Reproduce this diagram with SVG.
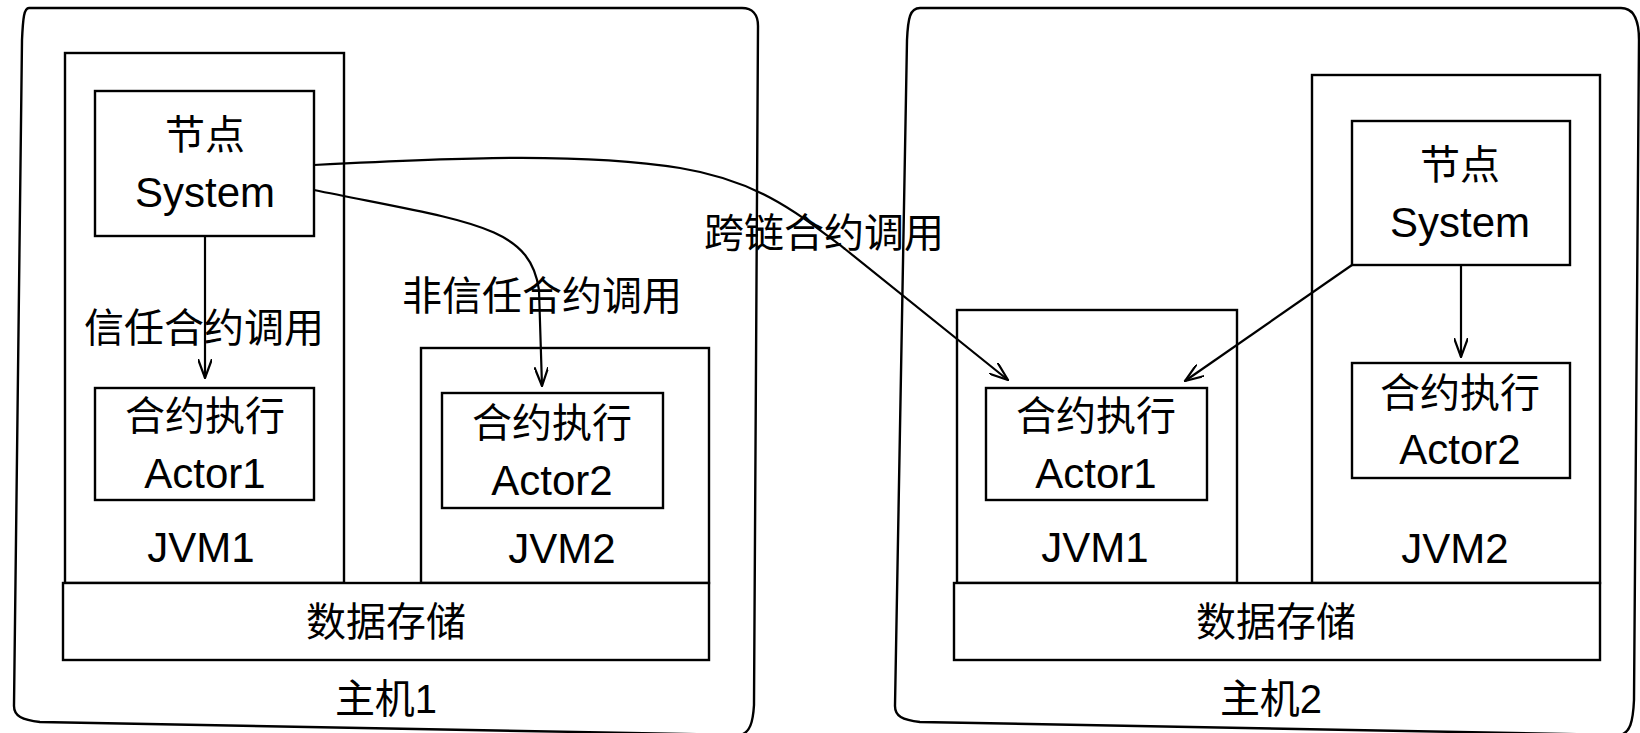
<svg xmlns="http://www.w3.org/2000/svg" width="1640" height="733" viewBox="0 0 1640 733">
<style>
.box{fill:#fff;stroke:#000;stroke-width:2.4}
.host{fill:#fff;stroke:#000;stroke-width:2.4}
.t{font-family:"Liberation Sans","Noto Sans CJK SC",sans-serif;font-size:40px;fill:#000;text-anchor:middle}
.l{font-size:42px}
.edge{fill:none;stroke:#000;stroke-width:2.2}
</style>
<defs>
<marker id="arr" viewBox="0 0 20 14" refX="19" refY="7" markerWidth="20" markerHeight="14" markerUnits="userSpaceOnUse" orient="auto">
<path d="M0,0 L19,7 L0,14" fill="none" stroke="#000" stroke-width="2.2"/>
</marker>
</defs>
<rect width="1640" height="733" fill="#fff"/>

<g id="host1">
<path class="host" d="M29,8 L742,8 C752,8 758,14 758,26 L754,705 C753,722 750,733 740,735 L40,722 C22,720 14,716 14,706 L22,40 C23,18 24,8 29,8 Z"/>
<text class="t" x="386" y="713">主机1</text>
</g>
<g id="host1-jvm1">
<rect class="box" x="65" y="53" width="279" height="530"/>
<text class="t l" x="201" y="562">JVM1</text>
</g>
<g id="host1-jvm2">
<rect class="box" x="421" y="348" width="288" height="235"/>
<text class="t l" x="562" y="563">JVM2</text>
</g>
<g id="host1-storage">
<rect class="box" x="63" y="583" width="646" height="77"/>
<text class="t" x="386" y="636">数据存储</text>
</g>
<g id="host1-node">
<rect class="box" x="95" y="91" width="219" height="145"/>
<text class="t" x="205" y="149">节点</text>
<text class="t l" x="205" y="207">System</text>
</g>
<g id="host1-actor1">
<rect class="box" x="95" y="388" width="219" height="112"/>
<text class="t" x="205" y="430">合约执行</text>
<text class="t l" x="205" y="488">Actor1</text>
</g>
<g id="host1-actor2">
<rect class="box" x="442" y="393" width="221" height="115"/>
<text class="t" x="552" y="437">合约执行</text>
<text class="t l" x="552" y="495">Actor2</text>
</g>

<g id="host2">
<path class="host" d="M920,8 L1621,8 C1632,8 1639,18 1639,40 L1634,700 C1633,722 1630,733 1620,735 L920,722 C902,720 895,716 895,706 L907,40 C908,18 910,8 920,8 Z"/>
<text class="t" x="1271" y="713">主机2</text>
</g>
<g id="host2-jvm1">
<rect class="box" x="957" y="310" width="280" height="273"/>
<text class="t l" x="1095" y="562">JVM1</text>
</g>
<g id="host2-jvm2">
<rect class="box" x="1312" y="75" width="288" height="508"/>
<text class="t l" x="1455" y="563">JVM2</text>
</g>
<g id="host2-storage">
<rect class="box" x="954" y="583" width="646" height="77"/>
<text class="t" x="1276" y="636">数据存储</text>
</g>
<g id="host2-node">
<rect class="box" x="1352" y="121" width="218" height="144"/>
<text class="t" x="1460" y="179">节点</text>
<text class="t l" x="1460" y="237">System</text>
</g>
<g id="host2-actor1">
<rect class="box" x="986" y="388" width="221" height="112"/>
<text class="t" x="1096" y="430">合约执行</text>
<text class="t l" x="1096" y="488">Actor1</text>
</g>
<g id="host2-actor2">
<rect class="box" x="1352" y="363" width="218" height="115"/>
<text class="t" x="1460" y="407">合约执行</text>
<text class="t l" x="1460" y="464">Actor2</text>
</g>

<g id="connectors">
<text class="t" x="204" y="342">信任合约调用</text>
<text class="t" x="542" y="310">非信任合约调用</text>
<text class="t" x="824" y="247">跨链合约调用</text>
<path class="edge" d="M205,236 L205,378" marker-end="url(#arr)"/>
<path class="edge" d="M314,190 C470,222 530,225 539,290 L542,386" marker-end="url(#arr)"/>
<path class="edge" d="M314,165 C450,158 580,152 680,168 C760,181 800,215 845,249 L1008,380" marker-end="url(#arr)"/>
<path class="edge" d="M1461,265 L1461,357" marker-end="url(#arr)"/>
<path class="edge" d="M1352,265 L1185,381" marker-end="url(#arr)"/>
</g>
</svg>
